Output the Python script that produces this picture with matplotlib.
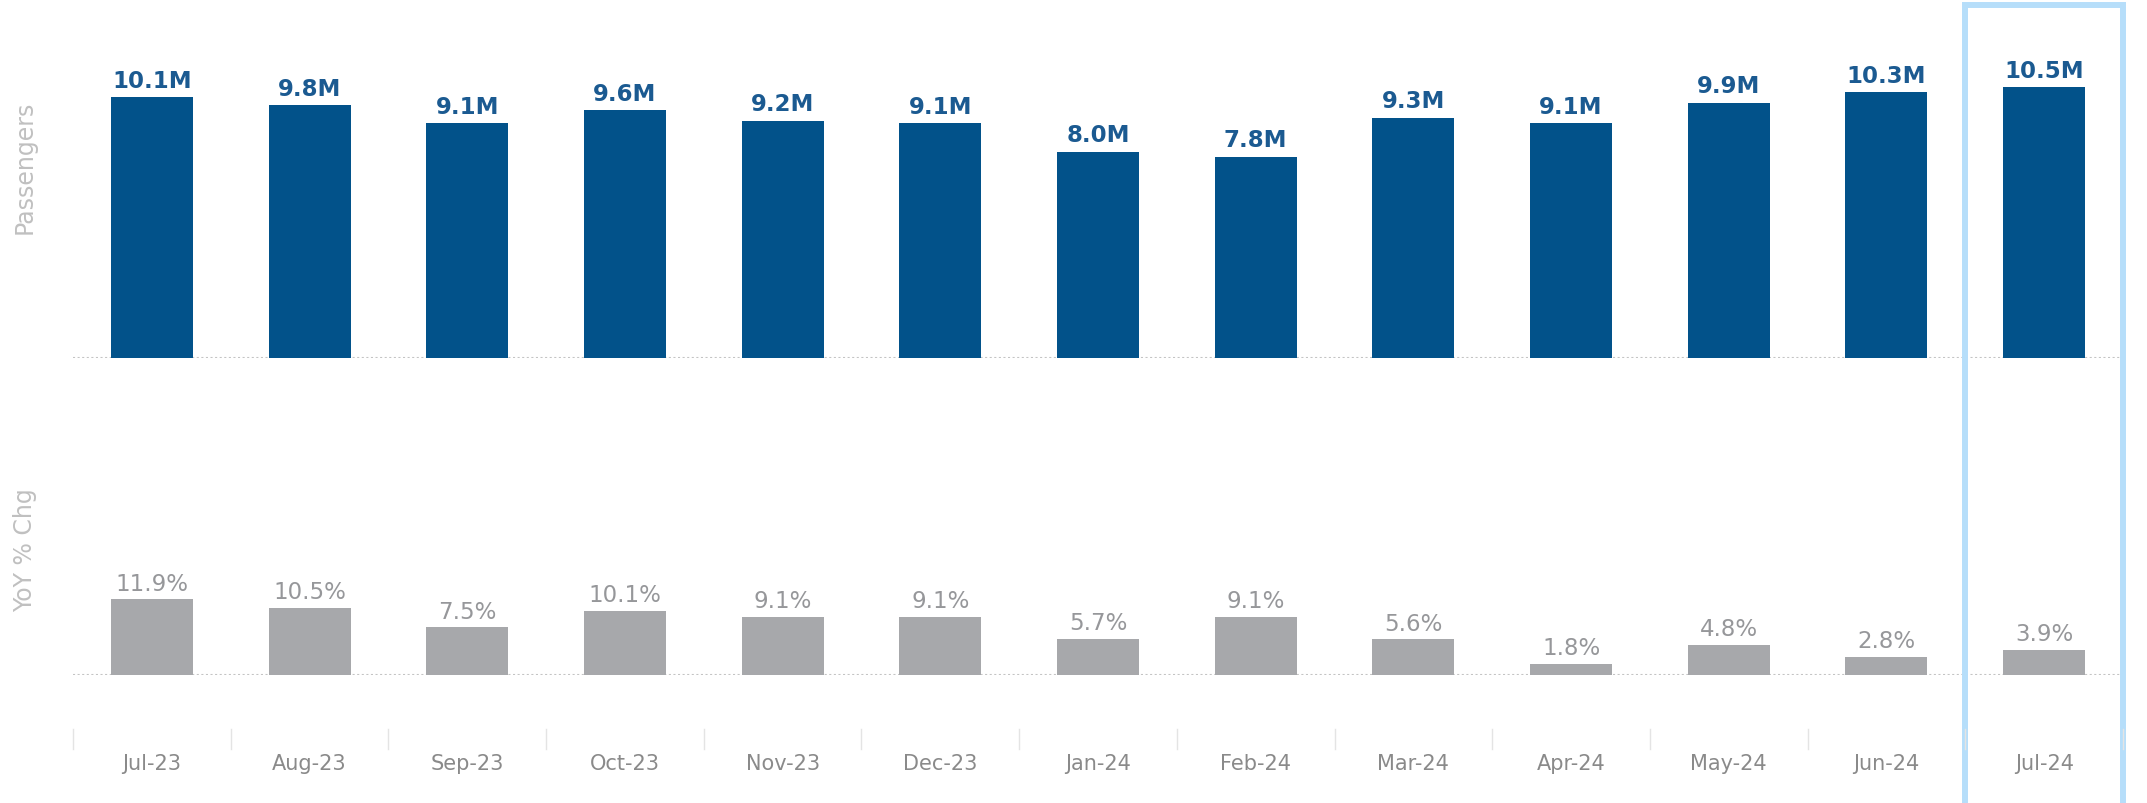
import numpy as np
import matplotlib
matplotlib.use('Agg')
from matplotlib import pyplot as plt
from matplotlib.patches import Rectangle
from matplotlib.transforms import blended_transform_factory

months = ['Jul-23', 'Aug-23', 'Sep-23', 'Oct-23', 'Nov-23', 'Dec-23', 'Jan-24',
          'Feb-24', 'Mar-24', 'Apr-24', 'May-24', 'Jun-24', 'Jul-24']
passengers = [10.1, 9.8, 9.1, 9.6, 9.2, 9.1, 8.0, 7.8, 9.3, 9.1, 9.9, 10.3, 10.5]
yoy_chg = [11.9, 10.5, 7.5, 10.1, 9.1, 9.1, 5.7, 9.1, 5.6, 1.8, 4.8, 2.8, 3.9]

blue = '#02528a'
blue_txt = '#1b5a91'
grey = '#a7a8ab'
grey_txt = '#96979a'
tick_col = '#8a8a8a'
ylab_col = '#c0c0c0'
box_col = '#b6defa'
base_col = '#c4c4c4'

plt.rcParams['font.family'] = 'DejaVu Sans'

W, H = 2147, 804
fig = plt.figure(figsize=(W / 100, H / 100), dpi=100)

x0 = 73 / W
w = (2123 - 73) / W
ax1 = fig.add_axes([x0, 1 - 359 / H, w, (359 - 5) / H])
ax2 = fig.add_axes([x0, 1 - 676 / H, w, 254 / H])

x = np.arange(len(months))

ax1.bar(x, passengers, width=0.52, color=blue)
ax1.set_ylim(0, 13.72)
for i, v in enumerate(passengers):
    ax1.annotate(f'{v:.1f}M', (i, v), xytext=(0, 4), textcoords='offset points',
                 ha='center', va='bottom', fontsize=16.5, fontweight='bold', color=blue_txt)

ax2.bar(x, yoy_chg, width=0.52, color=grey)
ax2.set_ylim(0, 40)
for i, v in enumerate(yoy_chg):
    ax2.annotate(f'{v:.1f}%', (i, v), xytext=(0, 3.5), textcoords='offset points',
                 ha='center', va='bottom', fontsize=16.5, color=grey_txt)

for ax in (ax1, ax2):
    ax.set_xlim(-0.5, len(months) - 0.5)
    for s in ax.spines.values():
        s.set_visible(False)
    ax.set_yticks([])
    ax.axhline(0, color=base_col, lw=1.5, ls=(0, (1, 1.2)), zorder=0)
    ax.patch.set_alpha(0)

ax1.set_xticks([])
ax2.set_xticks(x)
ax2.set_xticklabels(months, fontsize=15, color=tick_col)
ax2.tick_params(axis='x', length=0, pad=56)

# category separators under the chart
tr = blended_transform_factory(ax2.transData, fig.transFigure)
sep_x = np.arange(len(months) + 1) - 0.5
for sx in sep_x:
    fig.add_artist(plt.Line2D([sx, sx], [1 - 730 / H, 1 - 750 / H], transform=tr,
                              color='#e4e4e4', lw=1))

fig.text(25 / W, 1 - 167 / H, 'Passengers', rotation=90, ha='center', va='center',
         fontsize=17, color=ylab_col)
fig.text(25 / W, 1 - 550 / H, 'YoY % Chg', rotation=90, ha='center', va='center',
         fontsize=17, color=ylab_col)

# highlight latest month
tr1 = blended_transform_factory(ax1.transData, fig.transFigure)
fig.add_artist(Rectangle((len(months) - 1.5, -0.2), 1.0, 1.2 - 5.5 / H, transform=tr1,
                         fill=False, edgecolor=box_col, lw=4.3, clip_on=False))

fig.savefig('out.png', dpi=100)
